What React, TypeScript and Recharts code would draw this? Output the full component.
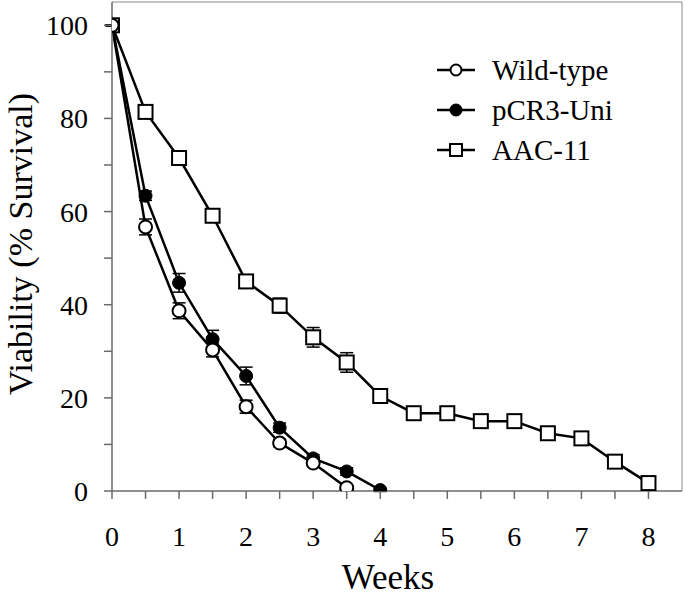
import React from "react"
import {
  ErrorBar,
  Label,
  Legend,
  Line,
  LineChart,
  ReferenceLine,
  XAxis,
  YAxis,
} from "recharts"

const FONT = '"Liberation Serif", "Times New Roman", Times, serif'

// weeks after transfection
const weeks = [0, 0.5, 1, 1.5, 2, 2.5, 3, 3.5, 4, 4.5, 5, 5.5, 6, 6.5, 7, 7.5, 8]

// % survival per line
const wildType = [100, 56.7, 38.7, 30.3, 18.1, 10.3, 6.0, 0.7]
const wildTypeErr = [0.1, 1.7, 1.7, 1.5, 1.4, 0.8, 0.5, 0.4]

const pcr3Uni = [100, 63.4, 44.7, 32.6, 24.7, 13.6, 7.0, 4.2, 0.2]
const pcr3UniErr = [0.1, 1.0, 2.0, 1.9, 1.9, 1.0, 0.8, 0.8, 0.3]

const aac11 = [
  100, 81.4, 71.5, 59.1, 45.0, 39.8, 33.0, 27.6, 20.4, 16.7, 16.7, 15.0, 15.0,
  12.4, 11.3, 6.3, 1.7,
]
const aac11Err = [
  0.1, 1.0, 1.5, 1.0, 1.3, 1.6, 2.1, 2.1, 0.5, 0.5, 0.5, 0.5, 0.5, 0.5, 0.5,
  0.5, 0.5,
]

const xTicks = [0, 0.5, 1, 1.5, 2, 2.5, 3, 3.5, 4, 4.5, 5, 5.5, 6, 6.5, 7, 7.5, 8]
const yTicks = [0, 10, 20, 30, 40, 50, 60, 70, 80, 90, 100]

const legendItems = [
  { label: "Wild-type", marker: "open" },
  { label: "pCR3-Uni", marker: "filled" },
  { label: "AAC-11", marker: "square" },
]

const data = weeks.map((week, i) => ({
  week,
  wildType: wildType[i] ?? null,
  wildTypeErr: wildTypeErr[i] ?? null,
  pcr3Uni: pcr3Uni[i] ?? null,
  pcr3UniErr: pcr3UniErr[i] ?? null,
  aac11: aac11[i] ?? null,
  aac11Err: aac11Err[i] ?? null,
}))

const axisStroke = { stroke: "#6a6a6a", strokeWidth: 1.5 }

const SquareDot = (props: any) => {
  const { cx, cy, index } = props
  if (cx == null || cy == null) return <g key={`sq-${index}`} />
  return (
    <rect
      key={`sq-${index}`}
      x={cx - 7}
      y={cy - 7}
      width={14}
      height={14}
      fill="#fff"
      stroke="#000"
      strokeWidth={2}
    />
  )
}

const LegendMarker = ({ type }: { type: string }) => {
  if (type === "square")
    return <rect x={13} y={14} width={12} height={12} fill="#fff" stroke="#000" strokeWidth={2} />
  return (
    <circle
      cx={19}
      cy={20}
      r={5.5}
      fill={type === "filled" ? "#000" : "#fff"}
      stroke="#000"
      strokeWidth={2}
    />
  )
}

const renderLegend = () => (
  <div style={{ fontFamily: FONT, fontSize: 29, color: "#000" }}>
    {legendItems.map((item) => (
      <div key={item.label} style={{ display: "flex", alignItems: "center", height: 40 }}>
        <svg width={55} height={40}>
          <line x1={0} x2={38} y1={20} y2={20} stroke="#000" strokeWidth={2.5} />
          <LegendMarker type={item.marker} />
        </svg>
        <span style={{ lineHeight: 1 }}>{item.label}</span>
      </div>
    ))}
  </div>
)

const YTitle = (props: any) => {
  const { viewBox } = props
  const x = 32
  const y = viewBox.y + 242
  return (
    <text
      x={x}
      y={y}
      transform={`rotate(-90 ${x} ${y})`}
      textAnchor="middle"
      fontFamily={FONT}
      fontSize={34}
      fill="#000"
    >
      Viability (% Survival)
    </text>
  )
}

const XTitle = (props: any) => {
  const { viewBox } = props
  return (
    <text
      x={viewBox.x + 276}
      y={viewBox.y + 98}
      textAnchor="middle"
      fontFamily={FONT}
      fontSize={35}
      fill="#000"
    >
      Weeks
    </text>
  )
}

export default function App() {
  return (
    <div style={{ position: "absolute", left: 0, top: 0, width: 685, height: 598, background: "#fff" }}>
      <LineChart
        width={685}
        height={598}
        data={data}
        margin={{ top: 2, right: 3, bottom: 0, left: 0 }}
      >
        <XAxis
          dataKey="week"
          type="number"
          domain={[0, 8.5]}
          ticks={xTicks}
          tickFormatter={(v: number) => (Number.isInteger(v) ? String(v) : "")}
          height={107}
          tickSize={8}
          tickMargin={27}
          axisLine={axisStroke}
          tickLine={axisStroke}
          tick={{ fill: "#000", fontSize: 28, fontFamily: FONT }}
          allowDataOverflow
        >
          <Label content={<XTitle />} />
        </XAxis>
        <YAxis
          type="number"
          domain={[0, 105]}
          ticks={yTicks}
          tickFormatter={(v: number) => (v % 20 === 0 ? String(v) : "")}
          width={112}
          tickSize={8}
          tickMargin={16}
          axisLine={axisStroke}
          tickLine={axisStroke}
          tick={{ fill: "#000", fontSize: 28, fontFamily: FONT }}
          allowDataOverflow
        >
          <Label content={<YTitle />} />
        </YAxis>
        <ReferenceLine y={105} stroke="#8a8a8a" strokeWidth={1} />
        <ReferenceLine x={8.5} stroke="#8a8a8a" strokeWidth={1} />

        <Line
          dataKey="aac11"
          stroke="#000"
          strokeWidth={2.5}
          dot={<SquareDot />}
          isAnimationActive={false}
        >
          <ErrorBar dataKey="aac11Err" direction="y" width={6.5} stroke="#000" strokeWidth={1.5} />
        </Line>
        <Line
          dataKey="pcr3Uni"
          stroke="#000"
          strokeWidth={2.5}
          dot={{ r: 6.5, fill: "#000", stroke: "#000", strokeWidth: 1 }}
          isAnimationActive={false}
        >
          <ErrorBar dataKey="pcr3UniErr" direction="y" width={6.5} stroke="#000" strokeWidth={1.5} />
        </Line>
        <Line
          dataKey="wildType"
          stroke="#000"
          strokeWidth={2.5}
          dot={{ r: 6.5, fill: "#fff", stroke: "#000", strokeWidth: 2 }}
          isAnimationActive={false}
        >
          <ErrorBar dataKey="wildTypeErr" direction="y" width={6.5} stroke="#000" strokeWidth={1.5} />
        </Line>

        <Legend
          layout="vertical"
          align="center"
          verticalAlign="middle"
          content={renderLegend}
          wrapperStyle={{ left: 437, top: 50, width: "auto" }}
        />
      </LineChart>
    </div>
  )
}
